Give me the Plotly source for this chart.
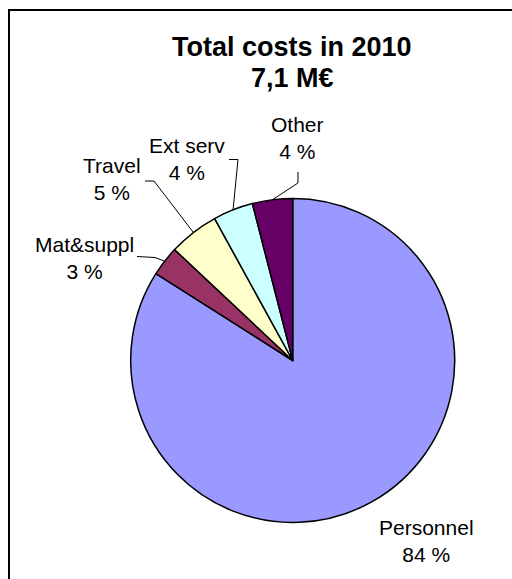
import math
import plotly.graph_objects as go

# Cost breakdown for 2010 (percent of total)
categories = ["Personnel", "Mat&suppl", "Travel", "Ext serv", "Other"]
shares = [84, 3, 5, 4, 4]
colors = ["#9999FF", "#993366", "#FFFFCC", "#CCFFFF", "#660066"]
title_lines = ["Total costs in 2010", "7,1 M€"]

W, H = 512, 579
FONT = "Arial, Liberation Sans, sans-serif"

# pie geometry in pixels
cx, cy, r = 292.7, 360.5, 162.0


def px(x):
    return x / W


def py(y):
    return 1 - y / H


fig = go.Figure(
    go.Pie(
        labels=categories,
        values=shares,
        sort=False,
        direction="clockwise",
        rotation=0,
        marker=dict(colors=colors, line=dict(color="black", width=1.5)),
        textinfo="none",
        hoverinfo="label+percent",
        showlegend=False,
        domain=dict(x=[px(cx - r), px(cx + r)], y=[py(cy + r), py(cy - r)]),
    )
)

# mid-angle of each slice, measured clockwise from 12 o'clock
total = sum(shares)
mid_angles = []
acc = 0.0
for v in shares:
    mid_angles.append(360.0 * (acc + v / 2) / total)
    acc += v


def edge_point(i):
    a = math.radians(mid_angles[i])
    return cx + r * math.sin(a), cy - r * math.cos(a)


# label placement (pixel centres) and leader-line elbows
label_pos = {
    "Personnel": (426, 541),
    "Mat&suppl": (84, 258),
    "Travel": (112, 179),
    "Ext serv": (187, 159),
    "Other": (297, 138),
}
leader_elbows = {
    "Mat&suppl": [(137, 256.5), (155, 257.5)],
    "Travel": [(145, 181), (154, 181)],
    "Ext serv": [(229, 159.5), (238, 159.5)],
    "Other": [(298, 172), (298, 183)],
}

annotations = []
shapes = []
for i, (name, v) in enumerate(zip(categories, shares)):
    x, y = label_pos[name]
    annotations.append(dict(
        x=px(x), y=py(y), xref="paper", yref="paper",
        text=f"{name}<br>{v} %", showarrow=False,
        xanchor="center", yanchor="middle", align="center",
        font=dict(family=FONT, size=21, color="black"),
    ))
    if name in leader_elbows:
        pts = leader_elbows[name] + [edge_point(i)]
        path = "M " + " L ".join(f"{px(a):.5f},{py(b):.5f}" for a, b in pts)
        shapes.append(dict(type="path", path=path, xref="paper", yref="paper",
                           line=dict(color="black", width=1)))

for text, y in zip(title_lines, [47, 78]):
    annotations.append(dict(
        x=px(292), y=py(y), xref="paper", yref="paper",
        text=f"<b>{text}</b>", showarrow=False,
        xanchor="center", yanchor="middle",
        font=dict(family=FONT, size=27, color="black"),
    ))

# chart frame (open on the right and bottom edges of the canvas)
shapes.append(dict(type="rect", xref="paper", yref="paper",
                   x0=px(9), x1=px(W + 60), y0=py(H + 60), y1=py(10),
                   line=dict(color="black", width=2)))

fig.update_layout(
    width=W, height=H,
    margin=dict(l=0, r=0, t=0, b=0),
    paper_bgcolor="white",
    plot_bgcolor="white",
    annotations=annotations,
    shapes=shapes,
)

fig.write_html("out.html")
